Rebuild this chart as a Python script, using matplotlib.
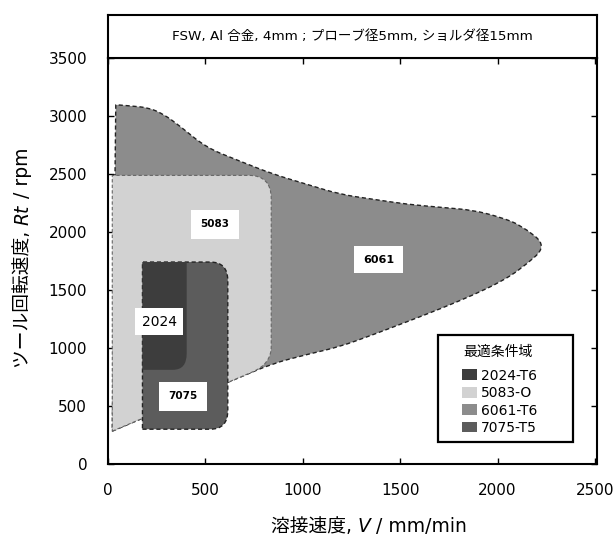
import matplotlib
matplotlib.use('Agg')
import matplotlib.pyplot as plt
from matplotlib.path import Path
from matplotlib.patches import PathPatch, Patch, Rectangle
import numpy as np

plt.rcParams['font.family'] = ['DejaVu Sans', 'Noto Sans CJK JP']

# region outlines (V: mm/min, Rt: rpm)
# 6061: lower edge (left -> nose), then upper edge (nose -> left)
a6061_v = [22, 263, 624, 845, 1021, 1191, 1361, 1536, 1706, 1876, 2015, 2119, 2255,
           2119, 2015, 1876, 1706, 1536, 1361, 1191, 1021, 845, 675, 505, 366, 289, 211, 108, 40]
a6061_rt = [283, 455, 710, 866, 944, 1012, 1115, 1227, 1338, 1458, 1570, 1681, 1880,
            2059, 2127, 2188, 2213, 2239, 2282, 2325, 2411, 2500, 2612, 2728, 2917, 3011, 3071, 3088, 3097]
# 5083
a5083_v = [22, 263, 624, 838, 838, 22]
a5083_rt = [283, 455, 710, 862, 2488, 2488]
# 7075
a7075_v = [177, 615, 615, 177]
a7075_rt = [300, 300, 1741, 1741]
# 2024
a2024_v = [177, 404, 404, 177]
a2024_rt = [812, 812, 1741, 1741]

region_names = ['2024-T6', '5083-O', '6061-T6', '7075-T5']
region_colors = ['#3d3d3d', '#d2d2d2', '#8c8c8c', '#5c5c5c']

box_text = ['6061', '5083', '2024', '7075']
box_v = [1390, 550, 263, 383]
box_rt = [1762, 2067, 1227, 583]

x_ticks = [0, 500, 1000, 1500, 2000, 2500]
y_ticks = [0, 500, 1000, 1500, 2000, 2500, 3000, 3500]


def rounded_path(vs, rts, rx, ry):
    pts = np.column_stack([vs, rts]).astype(float)
    n = len(pts)
    verts, codes = [], []
    for i in range(n):
        p = pts[i]
        if rx[i] == 0:
            verts.append(p)
            codes.append(Path.LINETO)
            continue
        prev, nxt = pts[i - 1], pts[(i + 1) % n]

        def toward(q):
            d = q - p
            # never go past 45% of the edge so neighbouring corners don't overlap
            return p + d / max(np.hypot(d[0] / rx[i], d[1] / ry[i]), 2.2)
        verts += [toward(prev), p, toward(nxt)]
        codes += [Path.LINETO, Path.CURVE3, Path.CURVE3]
    codes[0] = Path.MOVETO
    verts.append(verts[0])
    codes.append(Path.CLOSEPOLY)
    return Path(verts, codes)


def chain_text(fig, pieces, x, y, rotation=0, size=12):
    """Place text pieces one after another, centred on (x, y) in figure fraction."""
    texts = []
    t = fig.text(x, y, pieces[0][0], rotation=rotation, ha='left', va='bottom',
                 fontsize=size, **pieces[0][1])
    texts.append(t)
    for s, kw in pieces[1:]:
        if rotation == 0:
            t = fig.axes[0].annotate(s, xy=(1, 0), xycoords=texts[-1], ha='left', va='bottom',
                                     fontsize=size, annotation_clip=False, **kw)
        else:
            t = fig.axes[0].annotate(s, xy=(0, 1), xycoords=texts[-1], ha='left', va='bottom',
                                     rotation=rotation, fontsize=size, annotation_clip=False, **kw)
        texts.append(t)
    fig.canvas.draw()
    r = fig.canvas.get_renderer()
    b0 = texts[0].get_window_extent(r)
    b1 = texts[-1].get_window_extent(r)
    cx = (min(b0.x0, b1.x0) + max(b0.x1, b1.x1)) / 2
    cy = (min(b0.y0, b1.y0) + max(b0.y1, b1.y1)) / 2
    W, H = fig.bbox.width, fig.bbox.height
    texts[0].set_position((x + (x * W - cx) / W, y + (y * H - cy) / H))


fig = plt.figure(figsize=(6.16, 5.35), dpi=100)
ax = fig.add_axes([0.1753, 0.1327, 0.7938, 0.7589])

dash = (0, (3, 2))
n6061 = len(a6061_v)
nose = a6061_v.index(max(a6061_v))
rx6061 = [0] + [90] * (n6061 - 2) + [0]
ry6061 = [0] + [140] * (n6061 - 2) + [0]
rx6061[nose], ry6061[nose] = 400, 600
ax.add_patch(PathPatch(rounded_path(a6061_v, a6061_rt, rx6061, ry6061),
                       facecolor=region_colors[2], edgecolor='#222222', lw=1.0, linestyle=dash, zorder=1))
ax.add_patch(PathPatch(rounded_path(a5083_v, a5083_rt, [0, 0, 0, 120, 115, 0], [0, 0, 0, 150, 200, 0]),
                       facecolor=region_colors[1], edgecolor='#666666', lw=0.8, linestyle=dash, zorder=2))
ax.add_patch(PathPatch(rounded_path(a7075_v, a7075_rt, [0, 90, 90, 0], [0, 160, 160, 0]),
                       facecolor=region_colors[3], edgecolor='#222222', lw=1.0, linestyle=dash, zorder=3))
ax.add_patch(PathPatch(rounded_path(a2024_v, a2024_rt, [0, 70, 0, 0], [0, 140, 0, 0]),
                       facecolor=region_colors[0], edgecolor='none', zorder=4))

# labels inside regions
box_size = [8, 7.5, 10, 7.5]
box_weight = ['bold', 'bold', 'normal', 'bold']
box_pad = [0.8, 0.9, 0.45, 0.9]
for s, v, rt, fs, fw, pd in zip(box_text, box_v, box_rt, box_size, box_weight, box_pad):
    ax.text(v, rt, s, ha='center', va='center', fontsize=fs, fontweight=fw, zorder=6,
            bbox=dict(boxstyle=f'square,pad={pd}', facecolor='white', edgecolor='none'))

ax.set_xlim(0, 2510)
ax.set_ylim(0, 3500)
ax.set_xticks(x_ticks)
ax.set_yticks(y_ticks)
ax.tick_params(direction='in', length=4, width=1, top=True, right=True, labelsize=11)
ax.tick_params(axis='x', pad=14)
ax.tick_params(axis='y', pad=15)
for sp in ax.spines.values():
    sp.set_linewidth(1.5)

# legend: frame and title drawn separately, entries placed inside
ax.add_patch(Rectangle((0.675, 0.054), 0.276, 0.2635, transform=ax.transAxes, facecolor='white',
                       edgecolor='black', lw=1.6, zorder=7))
ax.text(0.726, 0.276, '最適条件域', transform=ax.transAxes, ha='left', va='center',
        fontsize=10, zorder=8)
handles = [Patch(facecolor=c, edgecolor='none') for c in region_colors]
leg = ax.legend(handles, region_names, loc='upper left',
                bbox_to_anchor=(0.724, 0.235), frameon=False, fontsize=10,
                borderpad=0, borderaxespad=0, labelspacing=0.25,
                handlelength=1.1, handleheight=0.8, handletextpad=0.25)
leg.set_zorder(8)

# header box
tax = fig.add_axes([0.1753, 0.8916, 0.7938, 0.0804])
tax.set_xticks([])
tax.set_yticks([])
for sp in tax.spines.values():
    sp.set_linewidth(1.5)
tax.text(0.5, 0.5, 'FSW, Al 合金, 4mm ; プローブ径5mm, ショルダ径15mm', ha='center', va='center',
         fontsize=9.7, transform=tax.transAxes)

chain_text(fig, [('溶接速度, ', {}), ('V', {'style': 'italic'}), (' / mm/min', {})],
           369 / 616, 1 - 527 / 535, size=13.5)
chain_text(fig, [('ツール回転速度, ', {}), ('Rt', {'style': 'italic'}), (' / rpm', {})],
           23 / 616, 1 - 258 / 535, rotation=90, size=13.5)

fig.savefig('out.png', dpi=100)
